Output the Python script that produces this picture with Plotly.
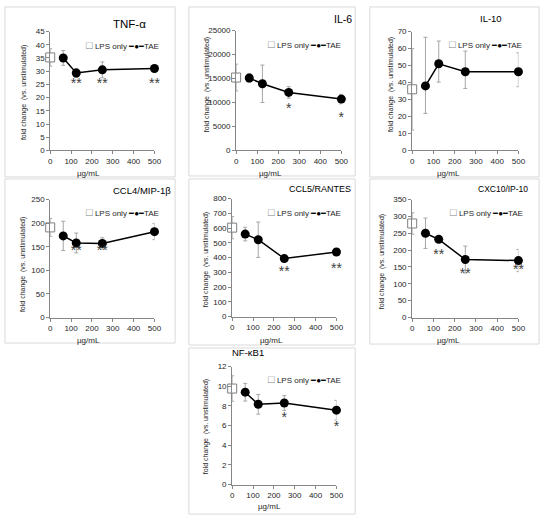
import plotly.graph_objects as go

W, H = 550, 522

# ---------------- data ----------------
doses = [62.5, 125, 250, 500]
lps_dose = [0]

tnf_lps = [35.2]
tnf_lps_err = [3.3]
tnf_tae = [35.0, 29.3, 30.5, 31.0]
tnf_tae_err = [2.8, 1.7, 3.0, 0.6]
tnf_star_x = [125, 250, 500]
tnf_star_y = [25.0, 25.0, 25.0]
tnf_star_t = ["**", "**", "**"]

il6_lps = [15200]
il6_lps_err = [2800]
il6_tae = [15100, 13900, 12100, 10700]
il6_tae_err = [900, 3900, 1200, 1000]
il6_star_x = [250, 500]
il6_star_y = [8600, 6600]
il6_star_t = ["*", "*"]

il10_lps = [36.0]
il10_lps_err = [24.0]
il10_tae = [38.0, 51.0, 46.3, 46.3]
il10_tae_err_plus = [28.6, 13.4, 12.2, 11.2]
il10_tae_err_minus = [16.2, 10.8, 9.8, 8.8]

ccl4_lps = [191]
ccl4_lps_err = [19]
ccl4_tae = [173, 158, 157, 182]
ccl4_tae_err = [31, 21, 12, 17]
ccl4_star_x = [125, 250]
ccl4_star_y = [140, 140]
ccl4_star_t = ["**", "**"]

ccl5_lps = [603]
ccl5_lps_err = [76]
ccl5_tae = [559, 521, 393, 438]
ccl5_tae_err = [46, 120, 8, 20]
ccl5_star_x = [250, 500]
ccl5_star_y = [298, 316]
ccl5_star_t = ["**", "**"]

cxc10_lps = [279]
cxc10_lps_err = [32]
cxc10_tae = [250, 232, 172, 169]
cxc10_tae_err = [45, 8, 40, 33]
cxc10_star_x = [125, 250, 500]
cxc10_star_y = [184, 128, 140]
cxc10_star_t = ["**", "**", "**"]

nfkb_lps = [9.77]
nfkb_lps_err = [1.3]
nfkb_tae = [9.4, 8.17, 8.3, 7.57]
nfkb_tae_err = [0.9, 1.0, 0.75, 1.0]
nfkb_star_x = [250, 500]
nfkb_star_y = [6.7, 5.8]
nfkb_star_t = ["*", "*"]

x_ticks = [0, 100, 200, 300, 400, 500]
x_label = "µg/mL"
y_label = "fold change  (vs. unstimulated)"
legend_lps = "LPS only"
legend_tae = "TAE"

# ---------------- panel layout (pixel geometry) ----------------
panels = [
    dict(name="TNF-α", lps=tnf_lps, lpse=tnf_lps_err, tae=tnf_tae, taep=tnf_tae_err, taem=tnf_tae_err,
         sx=tnf_star_x, sy=tnf_star_y, st=tnf_star_t, ymax=45, dt=5,
         box=(3, 3, 176, 176), plot=(49, 155, 28, 149), title=(148, 20, 11.5, "right"),
         ytl=(23, 90), xtl=(88, 172), leg=(83, 42)),
    dict(name="IL-6", lps=il6_lps, lpse=il6_lps_err, tae=il6_tae, taep=il6_tae_err, taem=il6_tae_err,
         sx=il6_star_x, sy=il6_star_y, st=il6_star_t, ymax=25000, dt=5000,
         box=(190, 3, 359, 175), plot=(238, 345, 27, 149), title=(358, 15, 10.5, "right"),
         ytl=(208, 82), xtl=(273, 172), leg=(268, 41)),
    dict(name="IL-10", lps=il10_lps, lpse=il10_lps_err, tae=il10_tae, taep=il10_tae_err_plus, taem=il10_tae_err_minus,
         sx=[], sy=[], st=[], ymax=70, dt=10,
         box=(374, 3, 546, 176), plot=(417, 525, 28, 149), title=(497, 15, 9.5, "center"),
         ytl=(395, 82), xtl=(454, 172), leg=(452, 41)),
    dict(name="CCL4/MIP-1β", lps=ccl4_lps, lpse=ccl4_lps_err, tae=ccl4_tae, taep=ccl4_tae_err, taem=ccl4_tae_err,
         sx=ccl4_star_x, sy=ccl4_star_y, st=ccl4_star_t, ymax=250, dt=50,
         box=(3, 178, 176, 345), plot=(49, 155, 199, 319), title=(174, 190, 9.5, "right"),
         ytl=(22, 265), xtl=(88, 342), leg=(83, 212)),
    dict(name="CCL5/RANTES", lps=ccl5_lps, lpse=ccl5_lps_err, tae=ccl5_tae, taep=ccl5_tae_err, taem=ccl5_tae_err,
         sx=ccl5_star_x, sy=ccl5_star_y, st=ccl5_star_t, ymax=800, dt=100,
         box=(190, 178, 359, 347), plot=(234, 340, 198, 318), title=(357, 188, 9, "right"),
         ytl=(207, 260), xtl=(274, 342), leg=(268, 212)),
    dict(name="CXC10/IP-10", lps=cxc10_lps, lpse=cxc10_lps_err, tae=cxc10_tae, taep=cxc10_tae_err, taem=cxc10_tae_err,
         sx=cxc10_star_x, sy=cxc10_star_y, st=cxc10_star_t, ymax=350, dt=50,
         box=(374, 178, 546, 346), plot=(417, 525, 199, 319), title=(537, 188, 8.5, "right"),
         ytl=(387, 262), xtl=(454, 342), leg=(453, 212)),
    dict(name="NF-κB1", lps=nfkb_lps, lpse=nfkb_lps_err, tae=nfkb_tae, taep=nfkb_tae_err, taem=nfkb_tae_err,
         sx=nfkb_star_x, sy=nfkb_star_y, st=nfkb_star_t, ymax=12, dt=2,
         box=(190, 350, 359, 519), plot=(234, 340, 369, 489), title=(250, 355, 9.5, "center"),
         ytl=(207, 430), xtl=(272, 511), leg=(268, 382)),
]

FONT = "Liberation Sans, Arial, sans-serif"
AXC = "#868686"
TXT = "#262626"
ERR = "#a6a6a6"


def px(x):
    return x / W


def py(y):
    return 1 - y / H


fig = go.Figure()
layout = dict(width=W, height=H, margin=dict(l=0, r=0, t=0, b=0),
              paper_bgcolor="white", plot_bgcolor="white", showlegend=False,
              font=dict(family=FONT, color=TXT))
shapes = []
annotations = []

for i, p in enumerate(panels, start=1):
    sfx = "" if i == 1 else str(i)
    xa, ya = "x" + sfx, "y" + sfx
    x0, x1, y0, y1 = p["plot"]
    layout["xaxis" + sfx] = dict(
        domain=[px(x0), px(x1)], range=[0, 500], anchor=ya, tickvals=x_ticks,
        showline=True, linecolor=AXC, linewidth=1, ticks="outside", ticklen=3,
        tickcolor=AXC, showgrid=False, zeroline=False,
        tickfont=dict(size=8, family=FONT, color=TXT))
    layout["yaxis" + sfx] = dict(
        domain=[py(y1), py(y0)], range=[0, p["ymax"]], anchor=xa, dtick=p["dt"],
        tickformat="d",
        showline=True, linecolor=AXC, linewidth=1, ticks="outside", ticklen=3,
        tickcolor=AXC, showgrid=False, zeroline=False,
        tickfont=dict(size=8, family=FONT, color=TXT))

    # TAE series
    fig.add_trace(go.Scatter(
        x=doses, y=p["tae"], xaxis=xa, yaxis=ya, mode="lines+markers",
        line=dict(color="black", width=1.5),
        marker=dict(symbol="circle", size=9, color="black"),
        error_y=dict(type="data", array=p["taep"], arrayminus=p["taem"], symmetric=False,
                     color=ERR, thickness=1, width=2),
        cliponaxis=False, name=legend_tae))
    # LPS only
    fig.add_trace(go.Scatter(
        x=lps_dose, y=p["lps"], xaxis=xa, yaxis=ya, mode="markers",
        marker=dict(symbol="square", size=9, color="white", line=dict(color="#7f7f7f", width=1)),
        error_y=dict(type="data", array=p["lpse"], color=ERR, thickness=1, width=2),
        cliponaxis=False, name=legend_lps))
    # significance stars
    if p["sx"]:
        fig.add_trace(go.Scatter(
            x=p["sx"], y=p["sy"], text=p["st"], xaxis=xa, yaxis=ya, mode="text",
            textfont=dict(size=14, color="#404040", family=FONT), cliponaxis=False))

    # panel border
    bx0, by0, bx1, by1 = p["box"]
    shapes.append(dict(type="rect", xref="paper", yref="paper",
                       x0=px(bx0), x1=px(bx1), y0=py(by1), y1=py(by0),
                       line=dict(color="#d9d9d9", width=1), fillcolor="rgba(0,0,0,0)"))

    tx, ty, ts, tanc = p["title"]
    annotations.append(dict(text=p["name"], x=px(tx), y=py(ty), xref="paper", yref="paper",
                            showarrow=False, font=dict(size=ts, family=FONT, color="black"),
                            xanchor=tanc, yanchor="middle"))
    yx, yy = p["ytl"]
    annotations.append(dict(text=y_label, x=px(yx), y=py(yy), xref="paper", yref="paper",
                            showarrow=False, textangle=-90, font=dict(size=7, family=FONT, color=TXT),
                            xanchor="center", yanchor="middle"))
    xx, xy = p["xtl"]
    annotations.append(dict(text=x_label, x=px(xx), y=py(xy), xref="paper", yref="paper",
                            showarrow=False, font=dict(size=8, family=FONT, color=TXT),
                            xanchor="center", yanchor="middle"))
    lx, ly = p["leg"]
    annotations.append(dict(
        text=('<span style="color:#7f7f7f;font-size:11px">□</span> ' + legend_lps +
              ' <span style="color:black">━●━</span>' + legend_tae),
        x=px(lx), y=py(ly), xref="paper", yref="paper", showarrow=False,
        font=dict(size=8, family=FONT, color=TXT), xanchor="left", yanchor="middle"))

layout["shapes"] = shapes
layout["annotations"] = annotations
fig.update_layout(**layout)
fig.write_html("out.html", config={"displayModeBar": False},
               post_script="document.body.style.margin='0';")
